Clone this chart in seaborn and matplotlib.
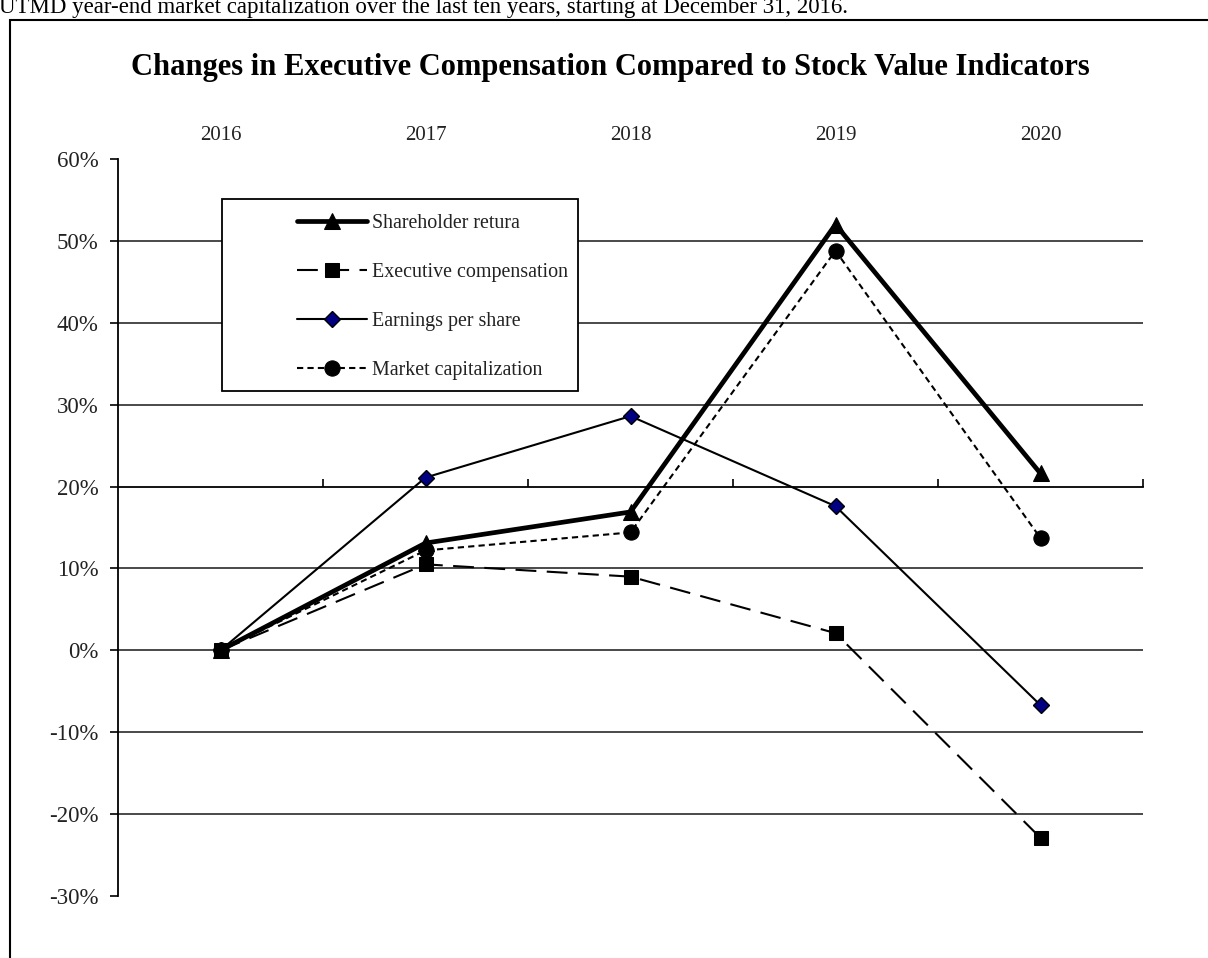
import matplotlib
matplotlib.use("Agg")
import matplotlib.pyplot as plt
import seaborn as sns
import pandas as pd
from matplotlib.patches import Rectangle
from matplotlib.ticker import FuncFormatter, FixedLocator

# ---- data ----
years = ["2016", "2017", "2018", "2019", "2020"]
shareholder_return = [0.0, 13.1, 16.9, 52.0, 21.6]
executive_compensation = [0.0, 10.5, 9.0, 2.1, -22.9]
earnings_per_share = [0.0, 21.1, 28.6, 17.6, -6.7]
market_capitalization = [0.0, 12.2, 14.4, 48.8, 13.7]
series_names = ["Shareholder retura", "Executive compensation",
                "Earnings per share", "Market capitalization"]
y_ticks = [-30, -20, -10, 0, 10, 20, 30, 40, 50, 60]
grid_levels = [-20, -10, 0, 10, 30, 40, 50]
title = "Changes in Executive Compensation Compared to Stock Value Indicators"
caption = "UTMD year-end market capitalization over the last ten years, starting at December 31, 2016."

sns.set_theme(style="white")
plt.rcParams["font.family"] = ["Liberation Serif", "DejaVu Serif"]

W, H = 1208, 958
fig = plt.figure(figsize=(W / 100, H / 100), dpi=100)
ax_l, ax_r, ax_t, ax_b = 118, 1143, 159, 896
ax = fig.add_axes([ax_l / W, 1 - ax_b / H, (ax_r - ax_l) / W, (ax_b - ax_t) / H])

pos = list(range(len(years)))
df = pd.DataFrame({"pos": pos, "sr": shareholder_return, "ec": executive_compensation,
                   "eps": earnings_per_share, "mc": market_capitalization})

for g in grid_levels:
    ax.axhline(g, color="#3a3a3a", lw=1.3, zorder=1)

sns.lineplot(data=df, x="pos", y="sr", ax=ax, color="black", lw=3.4,
             marker="^", markersize=11, markeredgecolor="black",
             markerfacecolor="black", label=series_names[0], zorder=5)
sns.lineplot(data=df, x="pos", y="ec", ax=ax, color="black", lw=1.5,
             linestyle=(0, (10, 5)), marker="s", markersize=10,
             markeredgecolor="black", markerfacecolor="black",
             label=series_names[1], zorder=4)
sns.lineplot(data=df, x="pos", y="eps", ax=ax, color="black", lw=1.5,
             marker="D", markersize=8, markeredgecolor="black",
             markerfacecolor="#000080", markeredgewidth=1.0,
             label=series_names[2], zorder=4)
sns.lineplot(data=df, x="pos", y="mc", ax=ax, color="black", lw=1.5,
             linestyle=(0, (3, 2)), marker="o", markersize=11,
             markeredgecolor="black", markerfacecolor="black",
             label=series_names[3], zorder=4)

ax.set_xlim(-0.5, len(years) - 0.5)
ax.set_ylim(-30, 60)
ax.set_xlabel("")
ax.set_ylabel("")

# y axis
ax.yaxis.set_major_locator(FixedLocator(y_ticks))
ax.yaxis.set_major_formatter(FuncFormatter(lambda v, p: f"{v:.0f}%"))
ax.tick_params(axis="y", which="major", direction="out", length=6, width=1.2,
               color="black", pad=8, labelsize=16.5, labelcolor="#222222", left=True)

# x axis: labels on top, axis line at 20%
ax.set_xticks(pos)
ax.set_xticklabels(years)
ax.set_xticks([p + 0.5 for p in pos], minor=True)
ax.tick_params(axis="x", which="major", bottom=False, top=False, labelbottom=False,
               labeltop=True, labelsize=15, labelcolor="#222222", pad=4)
ax.tick_params(axis="x", which="minor", bottom=True, top=False, direction="in",
               length=6, width=1.2, color="black")

for s in ["top", "right"]:
    ax.spines[s].set_visible(False)
ax.spines["left"].set_color("black")
ax.spines["left"].set_linewidth(1.3)
ax.spines["bottom"].set_position(("data", 20))
ax.spines["bottom"].set_color("black")
ax.spines["bottom"].set_linewidth(1.3)
ax.grid(False)

# legend
handles, labels = ax.get_legend_handles_labels()
if ax.get_legend() is not None:
    ax.get_legend().remove()
fig.patches.append(Rectangle((222 / W, 1 - 391 / H), (578 - 222) / W, (391 - 199) / H,
                             transform=fig.transFigure, facecolor="white",
                             edgecolor="black", lw=1.3, zorder=3))
leg = fig.legend(handles, labels, loc="upper left",
                 bbox_to_anchor=(297 / W, 1 - 214 / H), frameon=False,
                 fontsize=14.4, handlelength=3.5, handletextpad=0.25,
                 labelspacing=1.5, borderpad=0, borderaxespad=0)
leg.set_zorder(6)
for t in leg.get_texts():
    t.set_color("#222222")

# outer frame
fig.patches.append(Rectangle((10 / W, -0.05), 1.2, 1 - 20 / H + 0.05,
                             transform=fig.transFigure, fill=False,
                             edgecolor="black", lw=1.5))

fig.text(610 / W, 1 - 67 / H, title, ha="center", va="center",
         fontsize=22, fontweight="bold", color="black")
fig.text(-1 / W, 1 - 13 / H, caption, ha="left", va="baseline",
         fontsize=16.5, color="black")

fig.savefig("out.png", dpi=100, facecolor="white")
